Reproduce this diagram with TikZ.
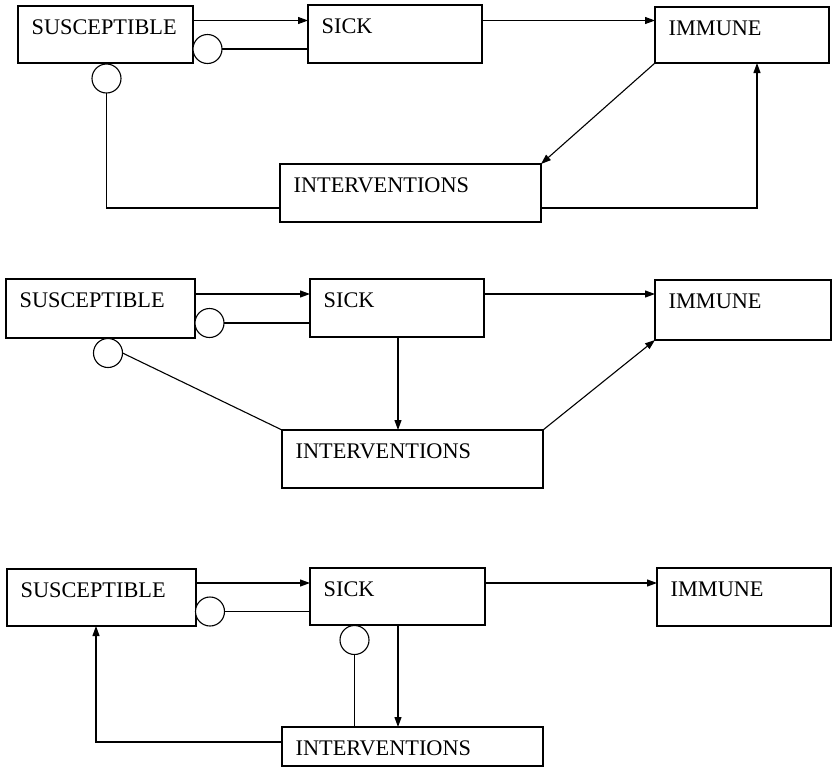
\documentclass[tikz,border=0pt]{standalone}
\usepackage{fontspec}
\setmainfont{Liberation Serif}
\usetikzlibrary{arrows.meta}

\tikzset{
  box/.style={draw, rectangle, anchor=north west, inner sep=0pt, outer sep=0pt, line width=1.1pt},
  lbl/.style={anchor=base west, inner sep=0pt, font=\fontsize{22.3}{26}\selectfont},
  circ/.style={draw, circle, fill=white, minimum size=29pt, inner sep=0pt, outer sep=0pt, line width=1.1pt},
  conn/.style={line width=1.1pt},
  arr/.style={conn, -{Triangle[length=10pt,width=7pt]}}
}

% box with its label set in the upper left corner
\newcommand\stagebox[6]{%
  \node[box, minimum width=#4pt, minimum height=#5pt] (#1) at (#2,#3) {};
  \node[lbl] (#1t) at ([shift={(13.5,28.5)}]#1.north west) {#6};
}

\begin{document}
\begin{tikzpicture}[x=1pt, y=-1pt]
\useasboundingbox (0,0) rectangle (833,769);

% ---------------- first model ----------------
\stagebox{SA}{18}{6}{175}{57}{SUSCEPTIBLE}
\stagebox{KA}{308}{5}{174}{58}{SICK}
\stagebox{MA}{655}{7}{174}{56}{IMMUNE}
\stagebox{IA}{280}{164}{261}{58}{INTERVENTIONS}
\node[circ] (cA1) at (207.5,49) {};
\node[circ] (cA2) at (106.5,78.5) {};
\coordinate (yA) at (0,20.5);
\coordinate (yA2) at (0,208);
\coordinate (xA) at (757,0);
\draw[arr] (SA.east |- yA) -- (KA.west |- yA);
\draw[arr] (KA.east |- yA) -- (MA.west |- yA);
\draw[conn] (cA1.east) -- (KA.west |- cA1);
\draw[conn] (cA2.south) |- (IA.west |- yA2);
\draw[arr] (MA.south west) -- (IA.north east);
\draw[arr] (IA.east |- yA2) -| (xA |- MA.south);

% ---------------- second model ----------------
\stagebox{SB}{6}{279}{189}{59}{SUSCEPTIBLE}
\stagebox{KB}{310}{279}{174}{58}{SICK}
\stagebox{MB}{655}{280}{176}{60}{IMMUNE}
\stagebox{IB}{282}{430}{261}{58}{INTERVENTIONS}
\node[circ] (cB1) at (209.5,323) {};
\node[circ] (cB2) at (108,353) {};
\coordinate (yB) at (0,294);
\coordinate (xB) at (398,0);
\draw[arr] (SB.east |- yB) -- (KB.west |- yB);
\draw[arr] (KB.east |- yB) -- (MB.west |- yB);
\draw[conn] (cB1.east) -- (KB.west |- cB1);
\draw[conn] (cB2.east) -- (IB.north west);
\draw[arr] (xB |- KB.south) -- (xB |- IB.north);
\draw[arr] (IB.north east) -- (MB.south west);

% ---------------- third model ----------------
\stagebox{SC}{7}{569}{189}{57}{SUSCEPTIBLE}
\stagebox{KC}{310}{568}{175}{57}{SICK}
\stagebox{MC}{657}{568}{174}{58}{IMMUNE}
\stagebox{IC}{282}{727}{261}{39}{INTERVENTIONS}
\node[circ] (cC1) at (210,611.5) {};
\node[circ] (cC2) at (354.5,640) {};
\coordinate (yC) at (0,583);
\coordinate (yC2) at (0,742);
\coordinate (xC) at (96,0);
\draw[arr] (SC.east |- yC) -- (KC.west |- yC);
\draw[arr] (KC.east |- yC) -- (MC.west |- yC);
\draw[conn] (cC1.east) -- (KC.west |- cC1);
\draw[conn] (cC2.south) -- (cC2.south |- IC.north);
\draw[arr] (xB |- KC.south) -- (xB |- IC.north);
\draw[arr] (IC.west |- yC2) -| (xC |- SC.south);
\end{tikzpicture}
\end{document}
